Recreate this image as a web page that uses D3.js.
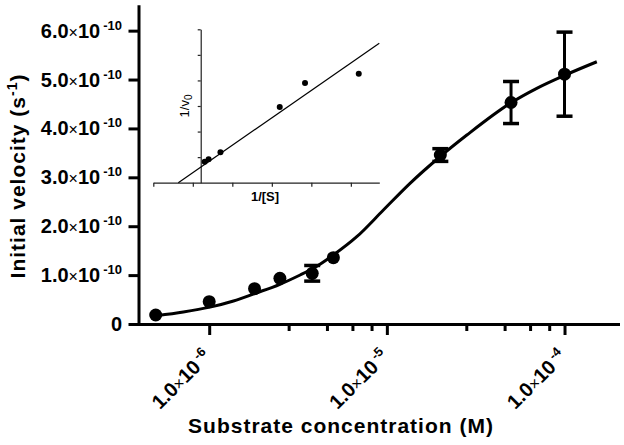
<!DOCTYPE html>
<html><head><meta charset="utf-8">
<script src="https://cdn.jsdelivr.net/npm/d3@7"></script>
<style>
body{margin:0;background:#fff;}
svg{display:block;}
text{font-family:"Liberation Sans",Arial,Helvetica,sans-serif;fill:#000;}
</style>
</head><body>
<svg id="chart" width="624" height="445"></svg>
<script>
// ---- main data: substrate concentration (M) vs initial velocity (x1e-10 s^-1)
const concentration = [5.0e-7, 1.0e-6, 1.8e-6, 2.5e-6, 3.8e-6, 5.0e-6, 2.0e-5, 5.0e-5, 1.0e-4];
const velocity      = [0.184, 0.456, 0.722, 0.935, 1.037, 1.356, 3.456, 4.53, 5.11];
const velocityErr   = [0, 0, 0, 0, 0.16, 0, 0.13, 0.43, 0.86];

// ---- fitted curve
const fitX = [5.06e-7, 7.15e-7, 1.01e-6, 1.37e-6, 1.81e-6, 2.50e-6, 3.25e-6, 3.86e-6, 5.0e-6,
              6.77e-6, 9.56e-6, 1.35e-5, 1.99e-5, 2.82e-5, 4.94e-5, 6.98e-5, 1.01e-4, 1.52e-4];
const fitY = [0.170, 0.245, 0.345, 0.470, 0.625, 0.812, 1.002, 1.139, 1.411,
              1.785, 2.331, 2.877, 3.421, 3.865, 4.513, 4.820, 5.092, 5.364];

// ---- ticks
const xMajorTicks = [1e-6, 1e-5, 1e-4];
const xTickExponents = ["-6", "-5", "-4"];
const xMinorTicks = [2.8e-6, 4.6e-6, 6.4e-6, 8.2e-6, 2.8e-5, 4.6e-5, 6.4e-5, 8.2e-5];
const yTicks = [0, 1, 2, 3, 4, 5, 6];
const yTickLabels = ["0", "1.0", "2.0", "3.0", "4.0", "5.0", "6.0"];
const yTickExponent = "-10";

// ---- inset (Lineweaver-Burk): 1/[S] (x1e5 M^-1) vs 1/v0 (x1e10 s)
const insetInvS = [0.1, 0.2, 0.5, 2.0, 2.64, 4.0];
const insetInvV = [0.205, 0.229, 0.297, 0.740, 0.975, 1.066];
const insetLineX = [-0.567, 4.52];
const insetLineY = [0, 1.363];
const insetXTicks = [-1.2, -0.2, 0.8, 1.8, 2.8, 3.8];
const insetYTicks = [0.25, 0.5, 0.75, 1.0, 1.25, 1.5];

const svg = d3.select("#chart");

// ---- main scales
const x = d3.scaleLog().domain([4e-7, 2e-4]).range([138.5, 618]);
const y = d3.scaleLinear().domain([0, 6.5]).range([324, 6.2]);

// x axis
const gx = svg.append("g").attr("transform", "translate(0,324)");
gx.call(d3.axisBottom(x).tickValues(xMajorTicks).tickSize(11).tickSizeOuter(0).tickFormat(""));
gx.select(".domain").attr("stroke-width", 3).attr("stroke-linecap", "square");
gx.selectAll(".tick line").attr("stroke-width", 3);
const gxm = svg.append("g").attr("transform", "translate(0,324)");
gxm.call(d3.axisBottom(x).tickValues(xMinorTicks).tickSize(7).tickSizeOuter(0).tickFormat(""));
gxm.select(".domain").remove();
gxm.selectAll(".tick line").attr("stroke-width", 3);

// y axis
const gy = svg.append("g").attr("transform", "translate(138.5,0)");
gy.call(d3.axisLeft(y).tickValues(yTicks).tickSize(10).tickSizeOuter(0).tickFormat(""));
gy.select(".domain").attr("stroke-width", 3).attr("stroke-linecap", "square");
gy.selectAll(".tick line").attr("stroke-width", 3);

// y tick labels
yTicks.forEach((v, i) => {
  const t = svg.append("text").attr("x", 122).attr("y", y(v) + 7)
    .attr("text-anchor", "end").attr("font-weight", "bold").attr("font-size", 20);
  if (v === 0) { t.text(yTickLabels[i]); return; }
  t.append("tspan").text(yTickLabels[i]);
  t.append("tspan").attr("font-weight", "normal").attr("font-size", 16).text("\u00d7");
  t.append("tspan").text("10");
  t.append("tspan").attr("font-size", 13).attr("dx", 3).attr("dy", -8).text(yTickExponent);
});

// x tick labels (rotated)
xMajorTicks.forEach((v, i) => {
  const t = svg.append("text")
    .attr("transform", `translate(${x(v) + 3},${358}) rotate(-45)`)
    .attr("text-anchor", "end").attr("font-weight", "bold").attr("font-size", 20);
  t.append("tspan").text("1.0");
  t.append("tspan").attr("font-weight", "normal").attr("font-size", 16).text("\u00d7");
  t.append("tspan").text("10");
  t.append("tspan").attr("font-size", 13).attr("dx", 3).attr("dy", -8).text(xTickExponents[i]);
});

// axis titles
svg.append("text").attr("x", 341).attr("y", 433).attr("text-anchor", "middle")
  .attr("font-weight", "bold").attr("font-size", 21).attr("letter-spacing", 1)
  .text("Substrate concentration (M)");
const yt = svg.append("text").attr("transform", "translate(25,176) rotate(-90)")
  .attr("text-anchor", "middle").attr("font-weight", "bold").attr("font-size", 21)
  .attr("letter-spacing", 1);
yt.append("tspan").text("Initial velocity (s");
yt.append("tspan").attr("font-size", 14).attr("dy", -8).text("-1");
yt.append("tspan").attr("dy", 8).text(")");

// fitted curve
const fit = fitX.map((d, i) => [d, fitY[i]]);
svg.append("path").datum(fit)
  .attr("d", d3.line().x(d => x(d[0])).y(d => y(d[1])).curve(d3.curveMonotoneX))
  .attr("fill", "none").attr("stroke", "#000").attr("stroke-width", 3);

// error bars
const pts = concentration.map((c, i) => ({c, v: velocity[i], e: velocityErr[i]}));
const eb = svg.append("g").attr("stroke", "#000").attr("stroke-width", 3);
pts.filter(d => d.e > 0).forEach(d => {
  eb.append("line").attr("x1", x(d.c)).attr("x2", x(d.c)).attr("y1", y(d.v - d.e)).attr("y2", y(d.v + d.e));
  [d.v - d.e, d.v + d.e].forEach(vv => {
    eb.append("line").attr("x1", x(d.c) - 8).attr("x2", x(d.c) + 8)
      .attr("y1", y(vv)).attr("y2", y(vv)).attr("stroke-width", 3.5);
  });
});

// points
svg.append("g").selectAll("circle").data(pts).join("circle")
  .attr("cx", d => x(d.c)).attr("cy", d => y(d.v)).attr("r", 6.5).attr("fill", "#000");

// ---- inset
const ix = d3.scaleLinear().domain([-1.2, 4.52]).range([153.3, 379.3]);
const iy = d3.scaleLinear().domain([0, 1.5]).range([182.7, 29.3]);

const igx = svg.append("g").attr("transform", `translate(0,${iy(0)})`);
igx.call(d3.axisBottom(ix).tickValues(insetXTicks).tickSize(4).tickSizeOuter(0).tickFormat(""));
igx.selectAll("path,line").attr("stroke", "#222").attr("stroke-width", 1.2);

const igy = svg.append("g").attr("transform", `translate(${ix(0)},0)`);
igy.call(d3.axisLeft(iy).tickValues(insetYTicks).tickSize(3).tickSizeOuter(0).tickFormat(""));
igy.selectAll("path,line").attr("stroke", "#222").attr("stroke-width", 1.2);

svg.append("line")
  .attr("x1", ix(insetLineX[0])).attr("y1", iy(insetLineY[0]))
  .attr("x2", ix(insetLineX[1])).attr("y2", iy(insetLineY[1]))
  .attr("stroke", "#000").attr("stroke-width", 1.2);

svg.append("g").selectAll("circle").data(insetInvS.map((s, i) => [s, insetInvV[i]])).join("circle")
  .attr("cx", d => ix(d[0])).attr("cy", d => iy(d[1])).attr("r", 3).attr("fill", "#000");

svg.append("text").attr("x", 265).attr("y", 201).attr("text-anchor", "middle")
  .attr("font-weight", "bold").attr("font-size", 13).text("1/[S]");
const iyt = svg.append("text").attr("transform", "translate(189,106) rotate(-90)")
  .attr("text-anchor", "middle").attr("font-size", 13);
iyt.append("tspan").text("1/v");
iyt.append("tspan").attr("font-size", 10).attr("dy", 3).text("0");
</script>
</body></html>
